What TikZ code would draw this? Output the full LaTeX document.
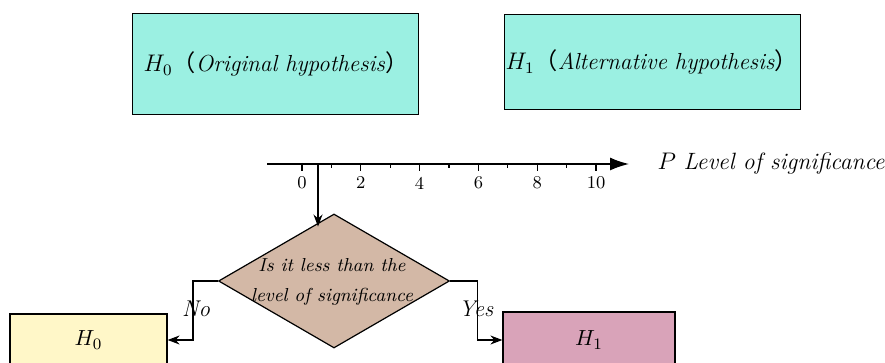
\documentclass[tikz,border=0pt]{standalone}
\usepackage{fontspec}
\newfontfamily\cjk{Noto Sans CJK SC}
\usetikzlibrary{shapes.geometric,arrows.meta,calc}
\definecolor{tealbox}{RGB}{155,240,226}
\definecolor{tanbox}{RGB}{211,184,166}
\definecolor{yellowbox}{RGB}{255,247,200}
\definecolor{pinkbox}{RGB}{217,163,185}
\begin{document}
\begin{tikzpicture}[x=0.5pt,y=-0.5pt,line width=0.6pt,
  topbox/.style={draw,line width=0.7pt,fill=tealbox,anchor=north west,inner ysep=0pt,align=left,font=\fontsize{11.6}{13}\selectfont},
  botbox/.style={draw,line width=0.6pt,inner sep=0pt,font=\fontsize{11.4}{13}\selectfont},
  lbl/.style={font=\fontsize{11.4}{13}\selectfont\itshape,inner sep=0pt},
  ticklbl/.style={font=\fontsize{9}{11}\selectfont,inner sep=0pt},
  conn/.style={line width=0.6pt,-{Stealth[length=6pt,width=4.5pt]}}]
\useasboundingbox (0,0) rectangle (885,363);
\clip (0,0) rectangle (885,363);

% top boxes
\node[topbox,minimum width=143pt,minimum height=50.5pt,text width=132pt,inner xsep=5.5pt] (h0top) at (132,13)
  {\mbox{$H_0${\cjk （}\textit{Original hypothesis}{\cjk ）}}};
\node[topbox,minimum width=148pt,minimum height=47.5pt,text width=147pt,inner xsep=0.5pt] (h1top) at (504,14)
  {\mbox{$H_1${\cjk （}\textit{Alternative hypothesis}{\cjk ）}}};

% axis
\coordinate (ax0) at (267,164);
\coordinate (ax1) at (629,164);
\draw[line width=0.7pt,-{Latex[length=9.5pt,width=6.5pt]}] (ax0) -- (ax1);
\foreach \i in {0,2,...,10} {
  \draw[line width=0.6pt] (302+29.4*\i,163) -- (302+29.4*\i,171);
  \node[ticklbl] (t\i) at (302+29.4*\i,183) {\i};
}
\foreach \i in {1,3,...,9} {
  \draw[line width=0.6pt] (302+29.4*\i,164) -- (302+29.4*\i,168);
}
\node[anchor=west,font=\fontsize{11.8}{13}\selectfont,inner sep=0pt] (plabel) at (657,164)
  {$P$ \textit{Level of significance}};

% decision
\node[draw,diamond,fill=tanbox,minimum width=115.5pt,minimum height=67pt,inner sep=0pt] (dia) at (334,281) {};
\node[align=center,font=\fontsize{9.4}{15}\selectfont\itshape,inner sep=0pt] (q) at (332,282)
  {Is it less than the\\level of significance};
\coordinate (p) at (318,164);
\draw[conn] (p) -- ($(p |- dia.105)+(0,4)$);

% outcome boxes
\node[botbox,fill=yellowbox,minimum width=78.5pt,minimum height=26pt] (h0b) at (88.5,340) {$H_0$};
\node[botbox,fill=pinkbox,minimum width=86pt,minimum height=28pt] (h1b) at (589,340) {$H_1$};

\draw[conn] (dia.west) -- ++(-25,0) |- (h0b.east);
\draw[conn] (dia.east) -- ++(27,0) |- (h1b.west);
\node[lbl] (no) at (196,309) {No};
\node[lbl] (yes) at (476,309) {Yes};
\end{tikzpicture}
\end{document}
